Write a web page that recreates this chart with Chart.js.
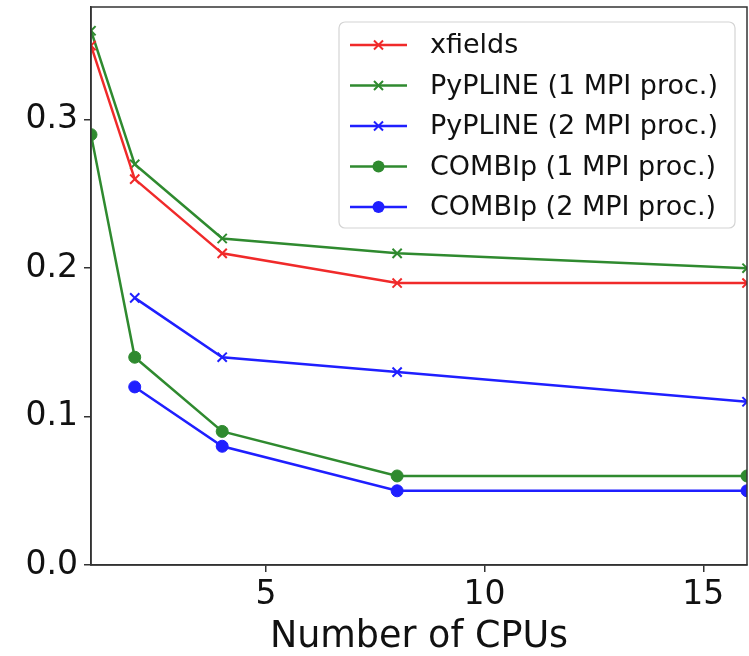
<!DOCTYPE html>
<html>
<head>
<meta charset="utf-8">
<script src="https://cdn.jsdelivr.net/npm/chart.js@4/dist/chart.umd.min.js"></script>
<style>
  html, body { margin: 0; padding: 0; background: #fff; }
  #wrap { width: 749px; height: 656px; }
</style>
</head>
<body>
<div id="wrap"><canvas id="cpuChart" width="749" height="656"></canvas></div>
<script>
// CPU counts on the x axis
const cpus = [1, 2, 4, 8, 16];

// timings per implementation (null = no run)
const xfields   = [0.35, 0.26, 0.21, 0.19, 0.19];
const pypline1  = [0.36, 0.27, 0.22, 0.21, 0.20];
const pypline2  = [null, 0.18, 0.14, 0.13, 0.11];
const combip1   = [0.29, 0.14, 0.09, 0.06, 0.06];
const combip2   = [null, 0.12, 0.08, 0.05, 0.05];

const xTicks = [5, 10, 15];
const yTicks = [0.0, 0.1, 0.2, 0.3];

const RED = '#f02a2a', GREEN = '#2f8a2f', BLUE = '#1f1fff';
const FONT = "'DejaVu Sans', sans-serif";

function toPoints(vals) {
  return cpus.map((c, i) => ({ x: c, y: vals[i] }));
}

function series(label, vals, color, marker) {
  return {
    label: label,
    data: toPoints(vals),
    borderColor: color,
    backgroundColor: color,
    borderWidth: 2.5,
    pointStyle: marker,
    pointRadius: marker === 'circle' ? 6 : 6.5,
    pointBorderWidth: marker === 'circle' ? 1 : 2,
    spanGaps: false,
    tension: 0,
    clip: 0
  };
}

// matplotlib-like legend box inside the plot, plus the full frame
const frameAndLegend = {
  id: 'frameAndLegend',
  afterDraw(chart) {
    const ctx = chart.ctx;
    const a = chart.chartArea;
    ctx.save();
    ctx.strokeStyle = '#333';
    ctx.lineWidth = 1.5;
    ctx.strokeRect(a.left, a.top, a.right - a.left, a.bottom - a.top);

    const bx = a.right - 408, by = a.top + 15, bw = 396, bh = 206;
    ctx.beginPath();
    ctx.roundRect(bx, by, bw, bh, 6);
    ctx.fillStyle = 'rgba(255,255,255,0.85)';
    ctx.fill();
    ctx.strokeStyle = '#d4d4d4';
    ctx.lineWidth = 1.2;
    ctx.stroke();

    ctx.font = '27px ' + FONT;
    ctx.textBaseline = 'middle';
    chart.data.datasets.forEach((ds, i) => {
      const y = by + 23 + i * 40.5;
      ctx.strokeStyle = ds.borderColor;
      ctx.lineWidth = 2.5;
      ctx.beginPath();
      ctx.moveTo(bx + 11, y);
      ctx.lineTo(bx + 68, y);
      ctx.stroke();
      const mx = bx + 39.5;
      if (ds.pointStyle === 'circle') {
        ctx.fillStyle = ds.borderColor;
        ctx.beginPath();
        ctx.arc(mx, y, 6, 0, Math.PI * 2);
        ctx.fill();
      } else {
        ctx.lineWidth = 2;
        ctx.beginPath();
        ctx.moveTo(mx - 4.5, y - 4.5); ctx.lineTo(mx + 4.5, y + 4.5);
        ctx.moveTo(mx - 4.5, y + 4.5); ctx.lineTo(mx + 4.5, y - 4.5);
        ctx.stroke();
      }
      ctx.fillStyle = '#111';
      ctx.fillText(ds.label, bx + 91, y + 1);
    });
    ctx.restore();
  }
};

new Chart(document.getElementById('cpuChart'), {
  type: 'line',
  data: {
    datasets: [
      series('xfields', xfields, RED, 'crossRot'),
      series('PyPLINE (1 MPI proc.)', pypline1, GREEN, 'crossRot'),
      series('PyPLINE (2 MPI proc.)', pypline2, BLUE, 'crossRot'),
      series('COMBIp (1 MPI proc.)', combip1, GREEN, 'circle'),
      series('COMBIp (2 MPI proc.)', combip2, BLUE, 'circle')
    ]
  },
  options: {
    responsive: false,
    animation: false,
    layout: { autoPadding: false, padding: { top: 7, right: 2, left: 0, bottom: 0 } },
    plugins: {
      legend: { display: false },
      tooltip: { enabled: false }
    },
    scales: {
      x: {
        type: 'linear',
        min: 1,
        max: 16,
        afterBuildTicks: s => { s.ticks = xTicks.map(v => ({ value: v })); },
        afterFit: s => { s.height = 91; s.paddingLeft = 0; s.paddingRight = 0; },
        grid: { drawOnChartArea: false, tickLength: 7, color: '#333', lineWidth: 1.5 },
        border: { color: '#333', width: 1.5 },
        ticks: { font: { family: FONT, size: 33 }, color: '#111', padding: 4, maxRotation: 0 },
        title: {
          display: true,
          text: 'Number of CPUs',
          font: { family: FONT, size: 36.5, lineHeight: 1.0 },
          color: '#111',
          padding: { top: 0, bottom: 0 }
        }
      },
      y: {
        min: 0,
        max: 0.376,
        afterBuildTicks: s => { s.ticks = yTicks.map(v => ({ value: v })); },
        afterFit: s => { s.width = 91; s.paddingTop = 0; s.paddingBottom = 0; },
        grid: { drawOnChartArea: false, tickLength: 7, color: '#333', lineWidth: 1.5 },
        border: { color: '#333', width: 1.5 },
        ticks: {
          font: { family: FONT, size: 33 },
          color: '#111',
          padding: 6,
          callback: v => v.toFixed(1)
        }
      }
    }
  },
  plugins: [frameAndLegend]
});
</script>
</body>
</html>
